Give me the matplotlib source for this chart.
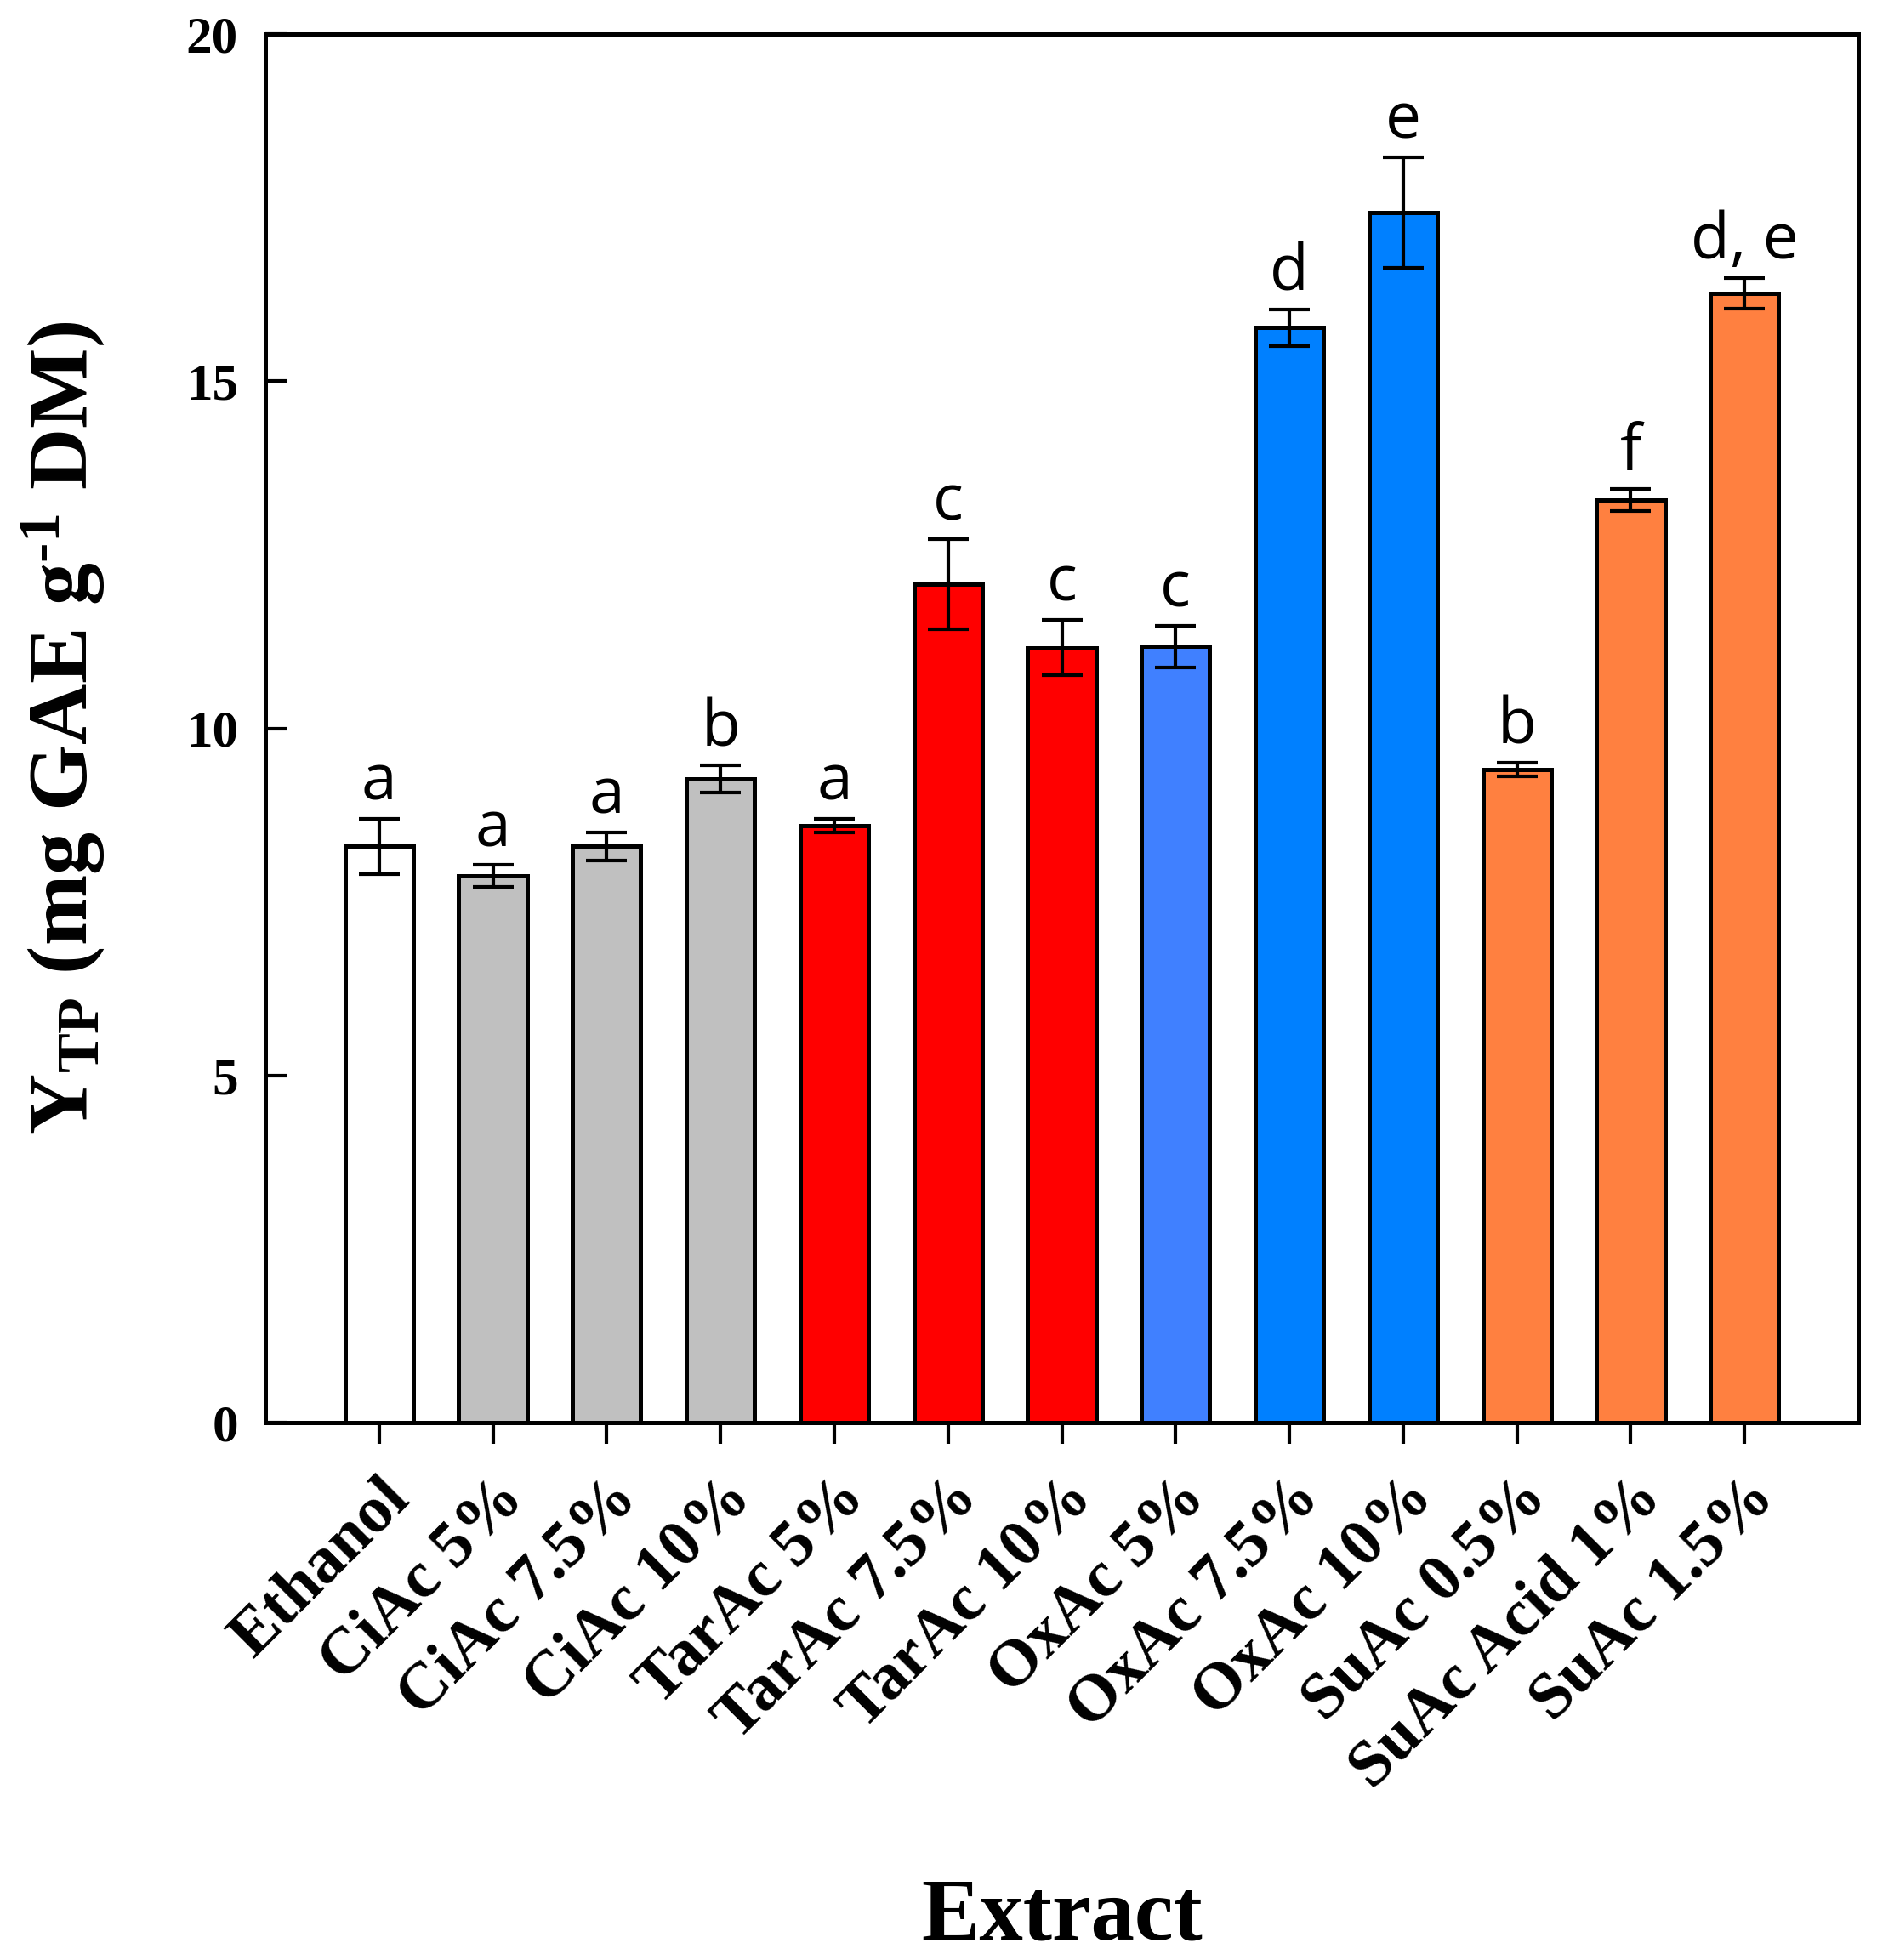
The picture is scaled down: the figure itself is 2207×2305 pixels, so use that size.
import matplotlib
matplotlib.use("Agg")
import matplotlib.pyplot as plt
import numpy as np

categories = ["Ethanol", "CiAc 5%", "CiAc 7.5%", "CiAc 10%", "TarAc 5%", "TarAc 7.5%",
              "TarAc 10%", "OxAc 5%", "OxAc 7.5%", "OxAc 10%", "SuAc 0.5%",
              "SuAc Acid 1%", "SuAc 1.5%"]
values = [8.30, 7.87, 8.30, 9.27, 8.60, 12.08, 11.16, 11.18, 15.77, 17.43, 9.41, 13.29, 16.27]
errors = [0.40, 0.16, 0.20, 0.20, 0.10, 0.65, 0.40, 0.30, 0.26, 0.80, 0.10, 0.16, 0.22]
letters = ["a", "a", "a", "b", "a", "c", "c", "c", "d", "e", "b", "f", "d, e"]
colors = ["#FFFFFF", "#C0C0C0", "#C0C0C0", "#C0C0C0", "#FF0000", "#FF0000", "#FF0000",
          "#4080FF", "#0080FF", "#0080FF", "#FF8040", "#FF8040", "#FF8040"]
yticks = [0, 5, 10, 15, 20]

plt.rcParams['mathtext.fontset'] = 'custom'
plt.rcParams['mathtext.rm'] = 'Liberation Serif:bold'
plt.rcParams['mathtext.bf'] = 'Liberation Serif:bold'
plt.rcParams['mathtext.it'] = 'Liberation Serif:bold'

DPI = 200
fig = plt.figure(figsize=(2207 / DPI, 2305 / DPI), dpi=DPI)
ax = fig.add_axes([312 / 2207, 1 - 1673 / 2305, (2185 - 312) / 2207, (1673 - 40) / 2305])

x = np.arange(len(categories))
ax.bar(x, values, width=0.6, color=colors, edgecolor="black", linewidth=1.8, zorder=2)
ax.errorbar(x, values, yerr=errors, fmt="none", ecolor="black", elinewidth=1.5,
            capsize=8.8, capthick=1.5, zorder=3)

for xi, v, e, lab in zip(x, values, errors, letters):
    ax.annotate(lab, (xi, v + e), xytext=(0, 8), textcoords="offset points",
                ha="center", va="baseline", fontsize=27, family="Open Sans")

ax.set_xlim(-1, len(categories))
ax.set_ylim(0, 20)
ax.set_yticks(yticks)
ax.set_yticklabels([str(t) for t in yticks], family="Liberation Serif",
                   fontweight="bold", fontsize=22)
ax.set_xticks(x)
ax.set_xticklabels(categories, rotation=45, ha="right", va="top", rotation_mode="anchor",
                   family="Liberation Serif", fontweight="bold", fontsize=28)

ax.tick_params(axis="y", direction="in", length=9.4, width=1.5, pad=11.5, right=False)
ax.tick_params(axis="x", direction="out", length=9, width=1.5, pad=10, top=False)
for s in ax.spines.values():
    s.set_linewidth(1.8)

ax.set_ylabel("Y$_{\\mathrm{TP}}$ (mg GAE g$^{\\mathrm{\u20101}}$ DM)", family="Liberation Serif",
              fontweight="bold", fontsize=36)
ax.yaxis.set_label_coords(-0.100, 0.5)

fig.text((312 + 2185) / 2 / 2207, 1 - 2280 / 2305, "Extract", ha="center", va="baseline",
         family="Liberation Serif", fontweight="bold", fontsize=37)

fig.savefig("out.png", dpi=DPI)
